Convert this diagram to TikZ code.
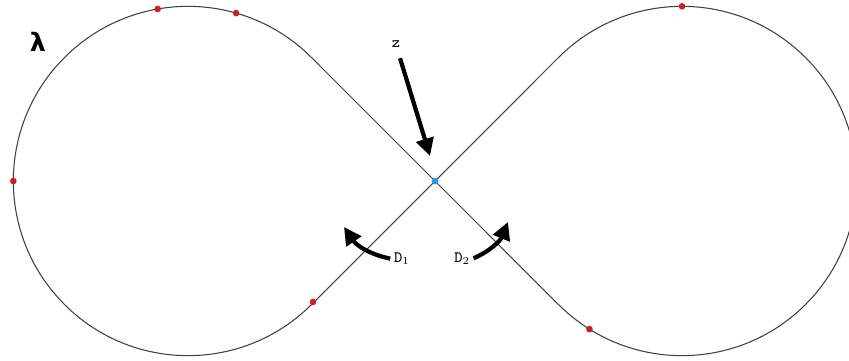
\documentclass[tikz,border=0pt]{standalone}
\usepackage{fontspec}
\newfontfamily\lamfont{DejaVu Sans}
\usetikzlibrary{arrows.meta}
\definecolor{dotred}{RGB}{200,35,35}
\definecolor{dotblue}{RGB}{35,155,220}
\tikzset{
  fat/.tip={Triangle[length=10pt,width=10pt]},
  eight/.style={draw=black!75,line width=0.6pt},
  dot/.style={circle,inner sep=0pt,minimum size=3.8pt,fill=dotred},
  pointer/.style={line width=2.4pt,-fat,shorten <=1pt},
  lbl/.style={font=\ttfamily\small,inner sep=1pt}
}
\begin{document}
\begin{tikzpicture}[x=0.02cm,y=0.02cm]
    \useasboundingbox (0,0) rectangle (849,360);
    \clip (0,0) rectangle (849,360);
    \coordinate (z) at (435,179);
    \coordinate (lc) at (188,179);
    \coordinate (rc) at (682,179);
    % the figure eight
    \draw[eight] (z) -- ([shift={(45:174.66)}]lc)
        arc[start angle=45,end angle=315,radius=174.66]
        -- (z) -- ([shift={(-135:174.66)}]rc)
        arc[start angle=-135,end angle=135,radius=174.66] -- cycle;
    % points on the curve
    \node[dot] (p1) at ([shift={(100:174.66)}]lc) {};
    \node[dot] (p2) at ([shift={(74:174.66)}]lc) {};
    \node[dot] (p3) at ([shift={(180:174.66)}]lc) {};
    \node[dot] (p4) at (313,58) {};
    \node[dot] (p5) at ([shift={(238:174.66)}]rc) {};
    \node[dot] (p6) at ([shift={(90:174.66)}]rc) {};
    \node[dot,fill=dotblue] (zdot) at (z) {};
    % labels
    \node[font=\lamfont\Large\bfseries] (lam) at (38,318) {λ};
    \node[lbl] (zlab) at (396,316) {z};
    \node[lbl,anchor=west] (d1) at (392,101) {D$_1$};
    \node[lbl,anchor=east] (d2) at (472,101) {D$_2$};
    \coordinate (ztip) at (430,204);
    \coordinate (d1tip) at (344,133);
    \coordinate (d2tip) at (508,138);
    \draw[pointer] ([xshift=2pt,yshift=-4pt]zlab.south) -- (ztip);
    \draw[pointer] (d1.west) to[bend left=22] (d1tip);
    \draw[pointer] (d2.east) to[bend right=22] (d2tip);
\end{tikzpicture}
\end{document}
